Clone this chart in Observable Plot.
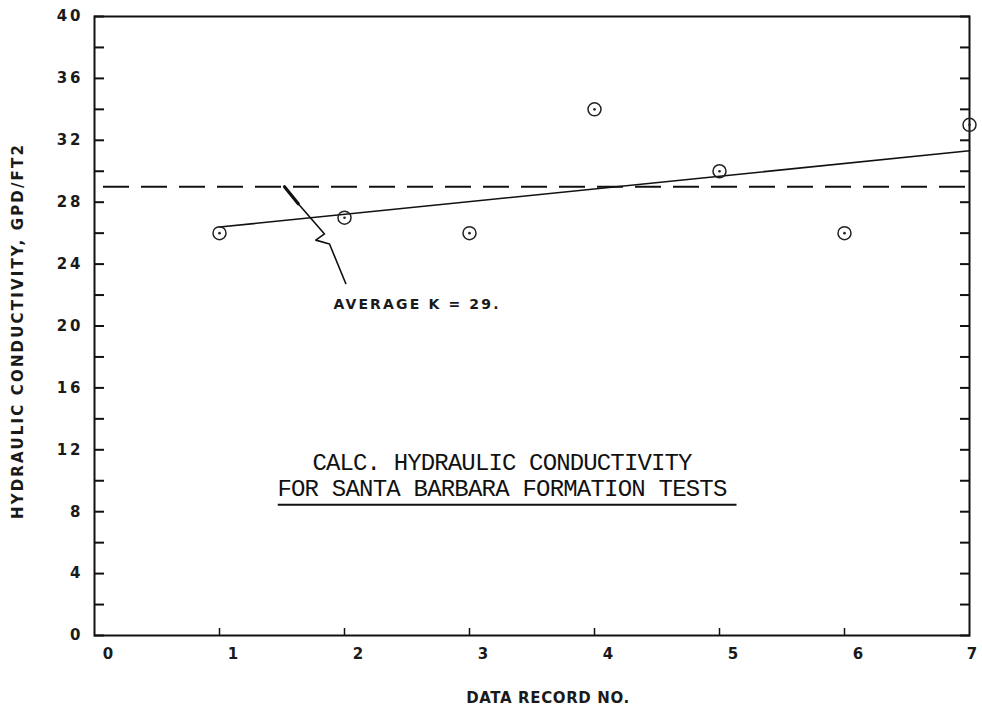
<!DOCTYPE html>
<html>
<head>
<meta charset="utf-8">
<script src="https://cdn.jsdelivr.net/npm/d3@7"></script>
<script src="https://cdn.jsdelivr.net/npm/@observablehq/plot@0.6"></script>
<style>
  html, body { margin: 0; padding: 0; background: #fff; }
  #chart svg { display: block; }
</style>
</head>
<body>
<div id="chart"></div>
<script>
// ---- data ----
const records = [1, 2, 3, 4, 5, 6, 7];
const conductivity = [26, 27, 26, 34, 30, 26, 33];
const averageK = [29];
const xTickValues = [0, 1, 2, 3, 4, 5, 6];
const xLastTick = [7];
const yMinorTicks = [0, 2, 4, 6, 8, 10, 12, 14, 16, 18, 20, 22, 24, 26, 28, 30, 32, 34, 36, 38, 40];
const yLabelTicks = [0, 4, 8, 12, 16, 20, 24, 28, 32, 36, 40];
const yTitle = "HYDRAULIC CONDUCTIVITY, GPD/FT2";
const xTitle = "DATA RECORD NO.";
const averageLabel = ["AVERAGE K = 29."];
const titleLines = ["CALC. HYDRAULIC CONDUCTIVITY", "FOR SANTA BARBARA FORMATION TESTS"];
// annotation anchor points in data units
const leaderX = [1.52, 1.63, 1.84, 1.77, 1.88, 2.01];
const leaderY = [29.0, 27.9, 25.95, 25.55, 25.3, 22.75];
const averageLabelPos = {x: 2.58, y: 21.4};
const titlePos = {x: 3.26, y: [11.2, 9.5]};
const underline = {x1: 1.47, x2: 5.14, y: 8.45};

const points = records.map((r, i) => ({x: r, y: conductivity[i]}));
const leader = leaderX.map((x, i) => ({x, y: leaderY[i]}));
const titles = titleLines.map((t, i) => ({t, x: titlePos.x, y: titlePos.y[i]}));

const font = "DejaVu Sans";
const lab = {fontSize: 15, fontWeight: "bold", fill: "#1a1a1a"};

const chart = Plot.plot({
  width: 982,
  height: 711,
  marginLeft: 94,
  marginRight: 13,
  marginTop: 16,
  marginBottom: 76,
  style: {fontFamily: font, fontWeight: "bold", fontSize: "15px", color: "#111", background: "#fff"},
  x: {domain: [0, 7]},
  y: {domain: [0, 40]},
  marks: [
    Plot.frame({stroke: "#111", strokeWidth: 2}),
    // inward ticks
    Plot.axisY({ticks: yMinorTicks, anchor: "left", tickSize: -10, tickFormat: () => "", strokeWidth: 2, label: null}),
    Plot.axisY({ticks: yMinorTicks, anchor: "right", tickSize: -10, tickFormat: () => "", strokeWidth: 2, label: null}),
    Plot.axisY({ticks: yLabelTicks, anchor: "left", tickSize: 0, tickPadding: 11, label: null,
      tickFormat: d3.format("d"), ...lab}),
    Plot.axisX({ticks: records.slice(0, 6), anchor: "bottom", tickSize: -7, tickFormat: () => "", strokeWidth: 1.5, label: null}),
    Plot.axisX({ticks: xTickValues, anchor: "bottom", tickSize: 0, tickPadding: 13, dx: 15, label: null,
      tickFormat: d3.format("d"), ...lab}),
    Plot.axisX({ticks: xLastTick, anchor: "bottom", tickSize: 0, tickPadding: 13, dx: 4, label: null,
      tickFormat: d3.format("d"), ...lab}),
    // axis titles
    Plot.text([yTitle], {frameAnchor: "left", textAnchor: "middle", rotate: -90, dx: -76, dy: 5, ...lab}),
    Plot.text([xTitle], {frameAnchor: "bottom", textAnchor: "middle", dx: 16, dy: 67, ...lab}),
    // average line
    Plot.ruleY(averageK, {stroke: "#111", strokeWidth: 2, strokeDasharray: "26,12", insetLeft: 9, insetRight: 4}),
    // regression
    Plot.linearRegressionY(points, {x: "x", y: "y", stroke: "#111", strokeWidth: 1.6, ci: 0}),
    // points
    Plot.dot(points, {x: "x", y: "y", r: 6.5, stroke: "#222", strokeWidth: 1.5, fill: "none"}),
    Plot.dot(points, {x: "x", y: "y", r: 1.3, fill: "#222"}),
    // leader
    Plot.line(leader, {x: "x", y: "y", stroke: "#111", strokeWidth: 1.6}),
    Plot.line(leader.slice(0, 2), {x: "x", y: "y", stroke: "#111", strokeWidth: 3.2, strokeLinecap: "round"}),
    Plot.text(averageLabel, {x: () => averageLabelPos.x, y: () => averageLabelPos.y, fontSize: 14,
      fontWeight: "bold", fill: "#1a1a1a"}),
    // title block
    Plot.text(titles, {x: "x", y: "y", text: "t", fontFamily: "Liberation Mono", fontWeight: "normal",
      fontSize: 24, fill: "#111", lineAnchor: "middle"}),
    Plot.ruleY([underline], {x1: "x1", x2: "x2", y: "y", stroke: "#111", strokeWidth: 2})
  ]
});

document.getElementById("chart").appendChild(chart);

// stretch lettering to the plotter widths seen in the reference
const targetWidth = new Map([
  [yTitle, 374], [xTitle, 163], [averageLabel[0], 165],
  [titleLines[0], 380], [titleLines[1], 450]
]);
d3.select(chart).selectAll("text").each(function() {
  const t = this.textContent;
  if (targetWidth.has(t)) {
    const w = this.getComputedTextLength();
    const ls = (targetWidth.get(t) - w) / (t.length - 1);
    this.style.letterSpacing = ls.toFixed(2) + "px";
  } else if (/^\d+$/.test(t)) {
    this.style.letterSpacing = "3px";
  }
});
</script>
</body>
</html>
